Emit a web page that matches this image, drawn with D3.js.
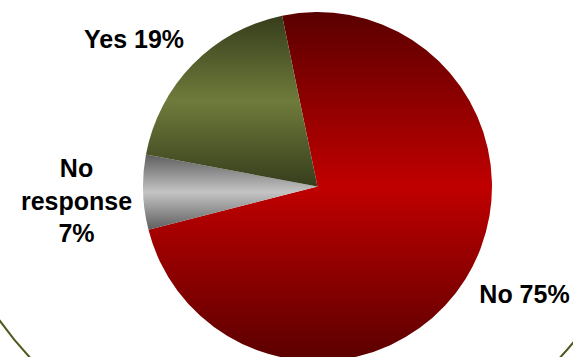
<!DOCTYPE html>
<html>
<head>
<meta charset="utf-8">
<script src="https://cdn.jsdelivr.net/npm/d3@7"></script>
<style>
  html, body { margin: 0; padding: 0; background: #ffffff; }
  svg { display: block; }
  text { font-family: "Liberation Sans", Arial, sans-serif; font-weight: bold; fill: #000; }
</style>
</head>
<body>
<script>
// Survey answers, clockwise from the top
const categories = ["No", "No response", "Yes"];
const values = [75, 7, 19];
const labels = [["No 75%"], ["No", "response", "7%"], ["Yes 19%"]];

const W = 573, H = 357;
const cx = 317.5, cy = 186.5, R = 174.5;

const svg = d3.select("body").append("svg")
  .attr("width", W).attr("height", H);

// Vertical dark-light-dark shading per slice
const shades = [
  { id: "g-no", dark: "#5a0000", light: "#c00000" },
  { id: "g-nr", dark: "#5e5e5e", light: "#c4c4c4" },
  { id: "g-yes", dark: "#363d1c", light: "#6f7b3b" }
];
const defs = svg.append("defs");
shades.forEach(s => {
  const g = defs.append("linearGradient")
    .attr("id", s.id).attr("x1", 0).attr("y1", 0).attr("x2", 0).attr("y2", 1);
  g.append("stop").attr("offset", "0%").attr("stop-color", s.dark);
  g.append("stop").attr("offset", "50%").attr("stop-color", s.light);
  g.append("stop").attr("offset", "100%").attr("stop-color", s.dark);
});

// Decorative olive frame arc
svg.append("circle")
  .attr("cx", 295).attr("cy", 111).attr("r", 362)
  .attr("fill", "none").attr("stroke", "#4f5a1f").attr("stroke-width", 2);

const start = -11.7 * Math.PI / 180;
const pie = d3.pie().sort(null).value(d => d)
  .startAngle(start).endAngle(start + 2 * Math.PI);
const arc = d3.arc().innerRadius(0).outerRadius(R);

const g = svg.append("g").attr("transform", `translate(${cx},${cy})`);
g.selectAll("path.slice")
  .data(pie(values))
  .join("path")
  .attr("class", "slice")
  .attr("d", arc)
  .attr("fill", (d, i) => `url(#${shades[i].id})`);

// Slice labels
const labelPos = [
  { x: 524.5, y: 303 },
  { x: 76.5, y: 177 },
  { x: 134, y: 48 }
];
const lineH = 32.5;
labels.forEach((lines, i) => {
  const t = svg.append("text")
    .attr("text-anchor", "middle")
    .attr("font-size", 25)
    .attr("x", labelPos[i].x).attr("y", labelPos[i].y);
  lines.forEach((ln, j) => {
    t.append("tspan").attr("x", labelPos[i].x).attr("dy", j === 0 ? 0 : lineH).text(ln);
  });
});
</script>
</body>
</html>
